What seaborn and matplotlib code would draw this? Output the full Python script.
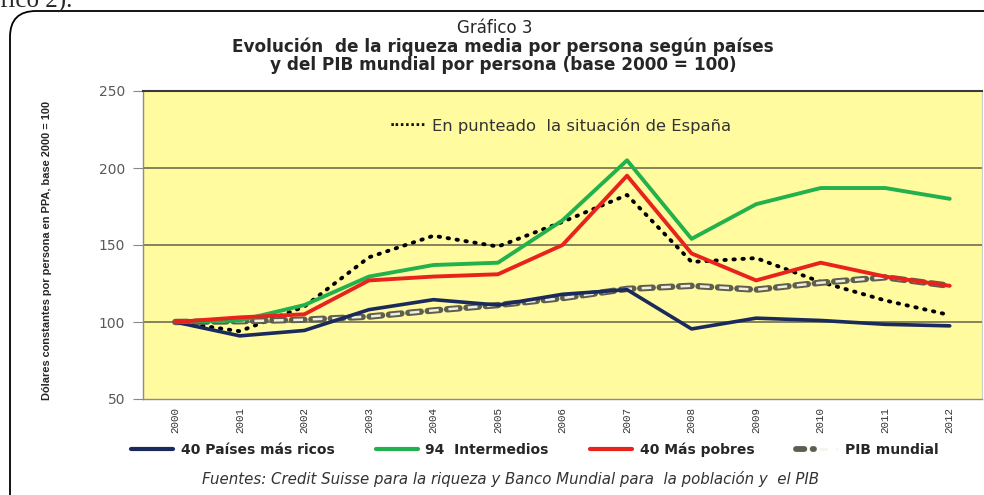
import matplotlib
matplotlib.use("Agg")
import matplotlib.pyplot as plt
import seaborn as sns
import numpy as np
import pandas as pd
from matplotlib.patches import FancyBboxPatch
from matplotlib.lines import Line2D
from matplotlib.legend_handler import HandlerTuple
from matplotlib.transforms import IdentityTransform

years = ["2000", "2001", "2002", "2003", "2004", "2005", "2006",
         "2007", "2008", "2009", "2010", "2011", "2012"]
ricos = [100, 91, 94.5, 108, 114.5, 111, 118, 121, 95.5, 102.5, 101, 98.5, 97.5]
intermedios = [100, 101, 111, 129.5, 137, 138.5, 166, 205, 154, 176.5, 187, 187, 180]
pobres = [100, 103, 105, 127, 129.5, 131, 150, 195, 144.5, 127, 138.5, 129.5, 123.5]
pib = [100, 100.5, 101.5, 103.5, 107.5, 111, 115.5, 121.5, 123.5, 121, 125.5, 129, 123.5]
espana = [100, 94, 110, 142, 156, 149, 165, 182.5, 139, 141.5, 126, 114, 104.5]

plt.rcParams['lines.scale_dashes'] = False
sns.set_style("white")
plt.rcParams['font.family'] = ['DejaVu Sans']

fig = plt.figure(figsize=(9.84, 4.95), dpi=100)
ax = fig.add_axes([143/984, 1-399/495, 839/984, 308/495])
ax.set_facecolor('#FFFB9E')

x = np.arange(len(years))
df = pd.DataFrame({"x": x, "ricos": ricos, "inter": intermedios,
                   "pobres": pobres, "pib": pib, "esp": espana})

sns.lineplot(data=df, x="x", y="esp", ax=ax, color='black', lw=2.8,
             linestyle=(0, (1.0, 5.5)), dash_capstyle='round', zorder=3)
sns.lineplot(data=df, x="x", y="pib", ax=ax, color='#5E5E50', lw=4.6,
             linestyle=(0, (9, 5)), dash_capstyle='round', zorder=4)
sns.lineplot(data=df, x="x", y="pib", ax=ax, color='#EEEEDD', lw=1.8,
             linestyle=(13, (7, 7)), zorder=5)
sns.lineplot(data=df, x="x", y="ricos", ax=ax, color='#1B2A5C', lw=2.6, zorder=6)
sns.lineplot(data=df, x="x", y="inter", ax=ax, color='#22B14C', lw=2.8, zorder=6)
sns.lineplot(data=df, x="x", y="pobres", ax=ax, color='#E8231C', lw=2.8, zorder=7)

ax.set_xlim(-0.5, 12.5)
ax.set_ylim(50, 250)
ax.set_yticks([50, 100, 150, 200, 250])
ax.set_yticklabels(['50', '100', '150', '200', '250'], color='#595959', fontsize=10)
ax.set_xticks(x)
ax.set_xticklabels(years, rotation=90, color='#333333', fontsize=7.8,
                   family=['Liberation Mono', 'DejaVu Sans Mono'])
ax.tick_params(axis='x', which='major', length=0, pad=6)
ax.set_xticks(np.arange(-0.5, 13, 1), minor=True)
ax.tick_params(axis='x', which='minor', length=5, color='#888888', direction='out')
ax.tick_params(axis='y', length=7, color='#888888', direction='out', left=True, pad=6)
for yv in [100, 150, 200]:
    ax.axhline(yv, color='#6E6E50', lw=1.2, zorder=1)
ax.set_xlabel('')
ax.set_ylabel('')
for s in ['left', 'bottom']:
    ax.spines[s].set_color('#8C8C8C')
    ax.spines[s].set_linewidth(1)
ax.spines['top'].set_color('#3A3A3A')
ax.spines['top'].set_linewidth(1.5)
ax.spines['right'].set_color('#CCCCCC')

fig.text(47/984, 1-250/495, 'Dólares constantes por persona en PPA, base 2000 = 100',
         rotation=90, ha='center', va='center', fontsize=7.9, fontweight='bold',
         family=['Liberation Sans', 'DejaVu Sans'])

# titles
fig.text(495/984, 1-28/495, 'Gráfico 3', ha='center', va='center', fontsize=12)
fig.text(503/984, 1-47/495, 'Evolución  de la riqueza media por persona según países',
         ha='center', va='center', fontsize=12.2, fontweight='bold')
fig.text(503/984, 1-65/495, 'y del PIB mundial por persona (base 2000 = 100)',
         ha='center', va='center', fontsize=12.2, fontweight='bold')

fig.text(390/984, 1-126/495, '.......', ha='left', va='baseline',
         fontsize=10, fontweight='bold', color='#111111')
fig.text(432/984, 1-126/495, 'En punteado  la situación de España',
         ha='left', va='center', fontsize=11.8, color='#333333')

# legend
pib_outer = Line2D([], [], color='#5E5E50', lw=4.2, linestyle=(0, (6, 6)),
                   dash_capstyle='round')
pib_inner = Line2D([], [], color='#F4F4EC', lw=1.8, linestyle=(0, (6, 6)))
handles = [Line2D([], [], color='#1B2A5C', lw=3),
           Line2D([], [], color='#22B14C', lw=3),
           Line2D([], [], color='#E8231C', lw=3),
           (pib_outer, pib_inner)]
labels = ['40 Países más ricos', '94  Intermedios', '40 Más pobres', 'PIB mundial']
leg = fig.legend(handles, labels, loc='center', bbox_to_anchor=(535/984, 1-450/495),
                 ncol=4, frameon=False, handlelength=3.0, handletextpad=0.55,
                 columnspacing=3.0, handler_map={tuple: HandlerTuple(ndivide=None)},
                 prop={'weight': 'bold', 'size': 10})

fig.text(511/984, 1-479/495,
         'Fuentes: Credit Suisse para la riqueza y Banco Mundial para  la población y  el PIB',
         ha='center', va='center', fontsize=10.8, style='italic', color='#333333')

# outer rounded border (pixel coordinates)
box = FancyBboxPatch((10, -40), 1020, 495 - 11 + 40,
                     boxstyle='round,pad=0,rounding_size=26',
                     transform=IdentityTransform(), fill=False, ec='black', lw=1.3)
fig.patches.append(box)

fig.text(0.0, 1 - 8/495, 'fico 2).', ha='left', va='baseline', fontsize=18,
         family=['Liberation Serif', 'DejaVu Serif'])

fig.savefig('out.png', dpi=100)
